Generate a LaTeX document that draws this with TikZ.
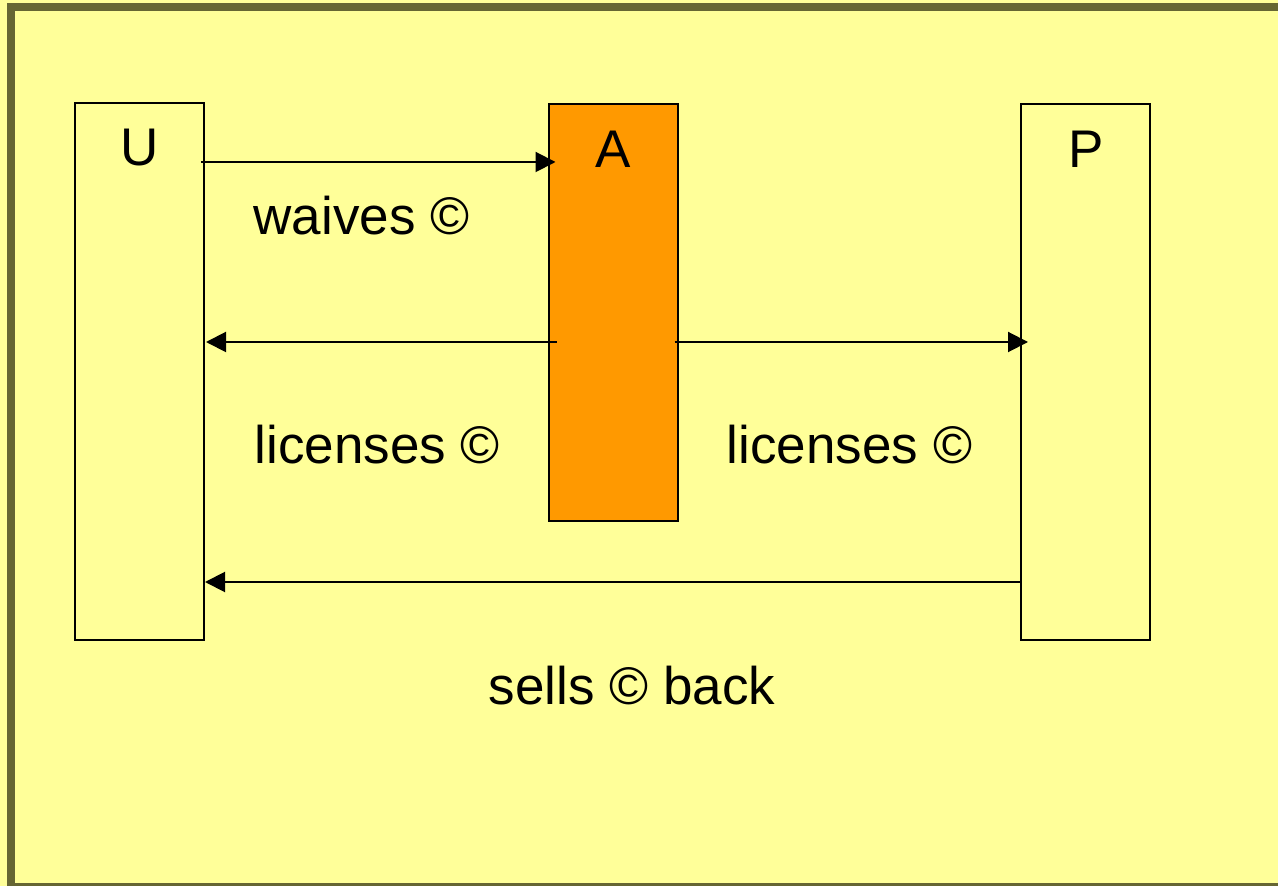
\documentclass[tikz,border=0pt]{standalone}
\usepackage{fontspec}
\setmainfont{Liberation Sans}
\usepackage{tikz}
\usetikzlibrary{arrows.meta,positioning}

\definecolor{paper}{HTML}{FFFF99}
\definecolor{frameol}{HTML}{666633}
\definecolor{agent}{HTML}{FF9900}

\begin{document}
\begin{tikzpicture}[x=0.5pt,y=-0.5pt,
    party/.style={draw, line width=1pt, inner sep=0pt, minimum width=64.5pt},
    who/.style={anchor=base, font=\fontsize{26.5}{30}\selectfont},
    says/.style={anchor=base, font=\fontsize{26.5}{30}\selectfont},
    flow/.style={line width=1pt, -{Triangle[length=10pt,width=10pt]}}]

    \useasboundingbox (0,0) rectangle (1278,886);
    \clip (0,0) rectangle (1278,886);
    \fill[paper] (0,0) rectangle (1278,886);
    \draw[frameol, line width=4pt] (11,7) rectangle (1300,887);

    % the three parties
    \node[party, minimum height=268.5pt]            (U) at (139.5,371.5) {};
    \node[party, fill=agent, minimum height=208.5pt] (A) at (613,312.5) {};
    \node[party, minimum height=268pt]              (P) at (1085.5,372) {};

    \node[who] (Ulab) at (140,166) {U};
    \node[who] (Alab) at (613,168) {A};
    \node[who] (Plab) at (1086,168) {P};

    % transfers
    \draw[flow, shorten <=-2pt, shorten >=-4pt] (U.east |- 0,162) -- (A.west |- 0,162);
    \draw[flow, shorten <=-4.5pt, shorten >=0.5pt] (A.west |- 0,342) -- (U.east |- 0,342);
    \draw[flow, shorten <=-2pt, shorten >=-4pt] (A.east |- 0,342) -- (P.west |- 0,342);
    \draw[flow] (P.west |- 0,582) -- (U.east |- 0,582);

    \node[says] (waive)  at (361.5,235) {waives ©};
    \node[says] (licU)   at (377.5,464) {licenses ©};
    \node[says] (licP)   at (849.5,464) {licenses ©};
    \node[says] (sell)   at (632,704)   {sells © back};

\end{tikzpicture}
\end{document}
